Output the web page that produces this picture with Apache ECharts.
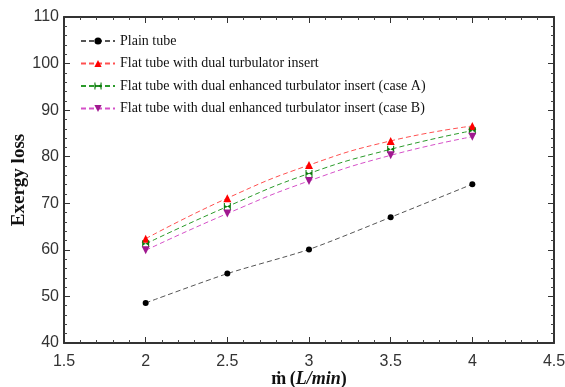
<!DOCTYPE html>
<html>
<head>
<meta charset="utf-8">
<script src="https://cdn.jsdelivr.net/npm/echarts@6/dist/echarts.min.js"></script>
<style>
  html, body { margin: 0; padding: 0; background: #fff; }
  #chart { width: 565px; height: 387px; }
</style>
</head>
<body>
<div id="chart"></div>
<script>
  // flow rate (L/min)
  const flow = [2, 2.5, 3, 3.5, 4]
  const plainTube = [48.6, 54.9, 60.1, 67.0, 74.1]
  const dualTurbulator = [62.4, 71.1, 78.2, 83.4, 86.6]
  const enhancedA = [61.3, 69.3, 76.4, 81.6, 85.6]
  const enhancedB = [59.9, 67.8, 74.8, 80.3, 84.3]
  const names = [
    'Plain tube',
    'Flat tube with dual turbulator insert',
    'Flat tube with dual enhanced turbulator insert (case A)',
    'Flat tube with dual enhanced turbulator insert (case B)'
  ]

  const chart = echarts.init(document.getElementById('chart'))
  const pairs = arr => flow.map((x, i) => [x, arr[i]])
  const bowtie = 'path://M0,0 L1.5,0 L1.5,3 L5,5 L8.5,3 L8.5,0 L10,0 L10,10 L8.5,10 L8.5,7 L5,5 L1.5,7 L1.5,10 L0,10 Z'

  const hidden = {show: false}
  const tickStyle = {inside: true, length: 6, lineStyle: {color: '#333', width: 1}}
  const minorStyle = {show: true, splitNumber: 5, length: 3, lineStyle: {color: '#444', width: 1}}

  function line(name, data, color, symColor, symbol, size, smooth) {
    return {
      name: name,
      type: 'line',
      smooth: smooth,
      data: pairs(data),
      symbol: symbol,
      symbolSize: size,
      itemStyle: {color: symColor},
      lineStyle: {color: color, width: 1, type: [5, 3]},
      z: 3
    }
  }

  const option = {
    animation: false,
    grid: {left: 64, right: 11, top: 17, bottom: 44, outerBoundsMode: 'none', containLabel: false},
    legend: {
      left: 75, top: 29, orient: 'vertical', itemGap: 8.5,
      itemWidth: 34, itemHeight: 9,
      textStyle: {fontFamily: 'Liberation Serif', fontSize: 14, color: '#111'},
      data: names
    },
    xAxis: [
      {
        type: 'value', min: 1.5, max: 4.5, interval: 0.5,
        axisLine: {lineStyle: {color: '#333', width: 2}},
        axisTick: tickStyle, minorTick: minorStyle,
        splitLine: hidden,
        axisLabel: {color: '#333', fontFamily: 'Liberation Sans', fontSize: 16, margin: 11},
        name: '{m|ṁ} {b|(}{i|L/min}{b|)}', nameLocation: 'middle', nameGap: 27,
        nameMoveOverlap: false,
        nameTextStyle: {
          rich: {
            m: {fontFamily: 'Liberation Serif', fontWeight: 'bold', fontSize: 18, color: '#111'},
            b: {fontFamily: 'Liberation Serif', fontWeight: 'bold', fontSize: 18, color: '#111'},
            i: {fontFamily: 'Liberation Serif', fontWeight: 'bold', fontStyle: 'italic', fontSize: 18, color: '#111'}
          }
        }
      },
      {
        type: 'value', position: 'top', min: 1.5, max: 4.5, interval: 0.5,
        axisLine: {lineStyle: {color: '#333', width: 2}},
        axisTick: tickStyle, minorTick: minorStyle,
        axisLabel: hidden, splitLine: hidden
      }
    ],
    yAxis: [
      {
        type: 'value', min: 40, max: 110, interval: 10,
        axisLine: {show: true, lineStyle: {color: '#333', width: 2}},
        axisTick: {show: true, ...tickStyle}, minorTick: minorStyle,
        splitLine: hidden,
        axisLabel: {color: '#333', fontFamily: 'Liberation Sans', fontSize: 16, margin: 5},
        name: 'Exergy loss', nameLocation: 'middle', nameGap: 35,
        nameMoveOverlap: false,
        nameTextStyle: {fontFamily: 'Liberation Serif', fontWeight: 'bold', fontSize: 19, color: '#111'}
      },
      {
        type: 'value', position: 'right', min: 40, max: 110, interval: 10,
        axisLine: {show: true, lineStyle: {color: '#333', width: 2}},
        axisTick: {show: true, ...tickStyle}, minorTick: minorStyle,
        axisLabel: hidden, splitLine: hidden
      }
    ],
    series: [
      line(names[0], plainTube, '#555', '#000', 'circle', 6, 0.25),
      line(names[1], dualTurbulator, '#ff5050', '#ff0000', 'triangle', 8, true),
      line(names[2], enhancedA, '#2a9a2a', '#0a7a0a', bowtie, 7, true),
      {...line(names[3], enhancedB, '#d550c8', '#a01890', 'triangle', 8, true), symbolRotate: 180}
    ]
  }

  chart.setOption(option)
</script>
</body>
</html>
